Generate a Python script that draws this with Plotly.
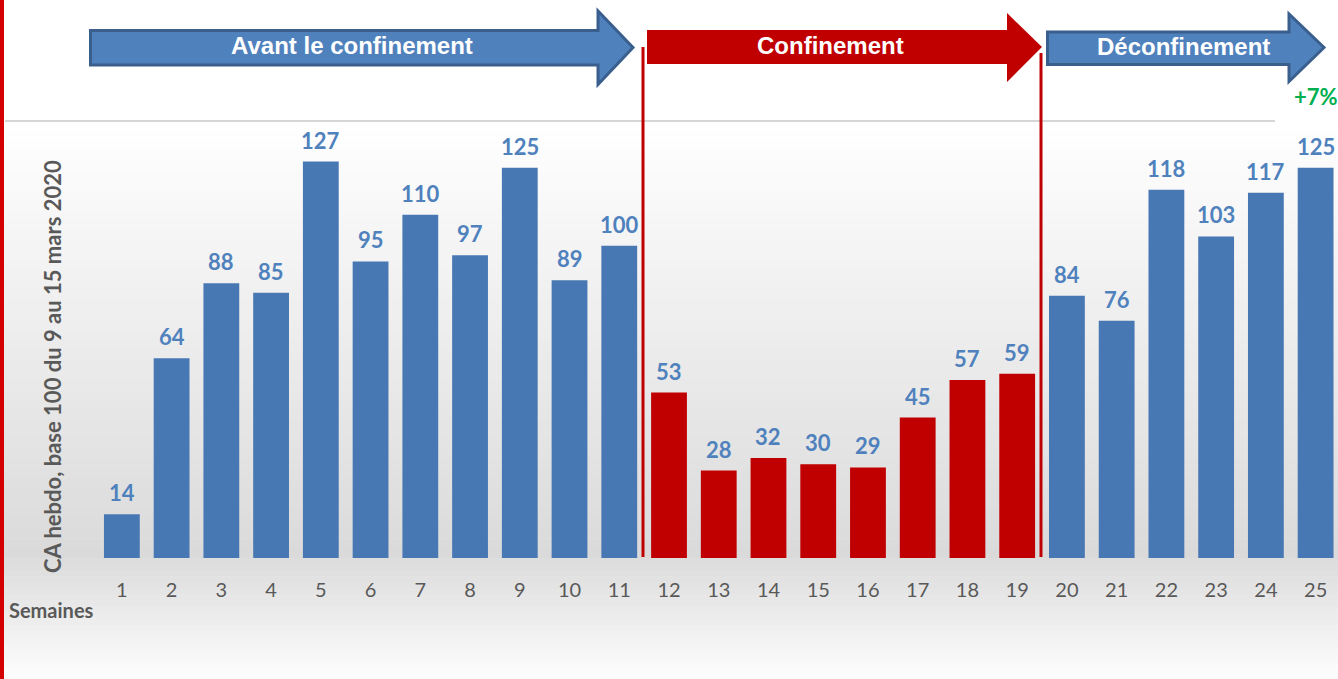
import plotly.graph_objects as go

# ---- data ----
weeks = list(range(1, 26))
values = [14, 64, 88, 85, 127, 95, 110, 97, 125, 89, 100,
          53, 28, 32, 30, 29, 45, 57, 59,
          84, 76, 118, 103, 117, 125]
periods = ["Avant le confinement"] * 11 + ["Confinement"] * 8 + ["Déconfinement"] * 6
period_colors = {"Avant le confinement": "#4878b4", "Confinement": "#c00000", "Déconfinement": "#4878b4"}
y_title = "CA hebdo, base 100 du 9 au 15 mars 2020"
x_title = "Semaines"
final_change = "+7%"

W, H = 1338, 679


def px(x):
    return x / W


def py(y):
    return 1 - y / H


def hexmix(c1, c2, t):
    a = [int(c1[i:i + 2], 16) for i in (1, 3, 5)]
    b = [int(c2[i:i + 2], 16) for i in (1, 3, 5)]
    return "#" + "".join(f"{round(a[k] + (b[k] - a[k]) * t):02x}" for k in range(3))


fig = go.Figure()
fig.add_trace(go.Bar(
    x=weeks, y=values, width=0.72,
    marker=dict(color=[period_colors[p] for p in periods], line=dict(width=0)),
    hoverinfo="x+y",
))

shapes = []
# background gradient
n1 = 44
top, base = 121, 558
for i in range(n1):
    y0 = top + (base - top) * i / n1
    y1 = top + (base - top) * (i + 1) / n1
    c = hexmix("#ffffff", "#dadada", (i + 0.5) / n1)
    shapes.append(dict(type="rect", xref="paper", yref="paper", x0=0, x1=1,
                       y0=py(y1) - 0.001, y1=py(y0), fillcolor=c, line=dict(width=0), layer="below"))
n2 = 20
for i in range(n2):
    y0 = base + (H - base) * i / n2
    y1 = base + (H - base) * (i + 1) / n2
    c = hexmix("#dcdcdc", "#fdfdfd", (i + 0.5) / n2)
    shapes.append(dict(type="rect", xref="paper", yref="paper", x0=0, x1=1,
                       y0=py(y1) - 0.001, y1=py(y0), fillcolor=c, line=dict(width=0), layer="below"))

# top grey line
shapes.append(dict(type="line", xref="paper", yref="paper", x0=px(5), x1=px(1275),
                   y0=py(121), y1=py(121), line=dict(color="#d6d6d6", width=2)))
# left red border
shapes.append(dict(type="rect", xref="paper", yref="paper", x0=0, x1=px(4), y0=0, y1=1,
                   fillcolor="#d40000", line=dict(width=0)))


def arrow_path(pts):
    return "M " + " L ".join(f"{px(x):.5f},{py(y):.5f}" for x, y in pts) + " Z"


# arrows
shapes.append(dict(type="path", xref="paper", yref="paper",
                   path=arrow_path([(90.5, 30.5), (598, 30.5), (598, 11), (633, 47.5), (598, 84.5), (598, 65), (90.5, 65)]),
                   fillcolor="#4f81bd", line=dict(color="#3a5f8d", width=3)))
shapes.append(dict(type="path", xref="paper", yref="paper",
                   path=arrow_path([(647, 30), (1007, 30), (1007, 13), (1042, 47), (1007, 82), (1007, 64), (647, 64)]),
                   fillcolor="#c00000", line=dict(width=0)))
shapes.append(dict(type="path", xref="paper", yref="paper",
                   path=arrow_path([(1047.5, 32), (1289, 32), (1289, 14), (1324, 47.5), (1289, 81.5), (1289, 64.5), (1047.5, 64.5)]),
                   fillcolor="#4f81bd", line=dict(color="#3a5f8d", width=3)))

# red separators
shapes.append(dict(type="line", xref="paper", yref="paper", x0=px(643), x1=px(643),
                   y0=py(47), y1=py(557), line=dict(color="#c00000", width=3)))
shapes.append(dict(type="line", xref="paper", yref="paper", x0=px(1041), x1=px(1041),
                   y0=py(53), y1=py(557), line=dict(color="#c00000", width=3)))

annotations = []
for x, v in zip(weeks, values):
    annotations.append(dict(x=x, y=v, xref="x", yref="y", text=f"<b>{v}</b>", showarrow=False,
                            yanchor="bottom", yshift=6,
                            font=dict(family="Lato", size=22, color="#4f81bd")))

arrow_labels = [("Avant le confinement", 352, 46), ("Confinement", 830, 46), ("Déconfinement", 1183, 47)]
for t, x, y in arrow_labels:
    annotations.append(dict(x=px(x), y=py(y), xref="paper", yref="paper", text=f"<b>{t}</b>",
                            showarrow=False, xanchor="center", yanchor="middle",
                            font=dict(family="Liberation Sans", size=24, color="#ffffff")))

annotations.append(dict(x=px(1316), y=py(97), xref="paper", yref="paper", text=f"<b>{final_change}</b>",
                        showarrow=False, xanchor="center", yanchor="middle",
                        font=dict(family="Lato", size=22, color="#00b050")))
annotations.append(dict(x=px(52), y=py(367), xref="paper", yref="paper", text=f"<b>{y_title}</b>",
                        showarrow=False, textangle=-90, xanchor="center", yanchor="middle",
                        font=dict(family="Lato", size=22, color="#595959")))
annotations.append(dict(x=px(51), y=py(610), xref="paper", yref="paper", text=f"<b>{x_title}</b>",
                        showarrow=False, xanchor="center", yanchor="middle",
                        font=dict(family="Lato", size=20, color="#595959")))

fig.update_layout(
    width=W, height=H,
    margin=dict(l=0, r=0, t=0, b=0, pad=0),
    paper_bgcolor="#ffffff",
    plot_bgcolor="rgba(0,0,0,0)",
    showlegend=False,
    bargap=0.28,
    shapes=shapes,
    annotations=annotations,
    xaxis=dict(domain=[px(97), 1], range=[0.5, 25.45], tickmode="array", tickvals=weeks,
               ticktext=[str(w) for w in weeks], showgrid=False, zeroline=False, showline=False,
               ticks="outside", ticklen=14, tickcolor="rgba(0,0,0,0)",
               tickfont=dict(family="Lato", size=20, color="#595959")),
    yaxis=dict(domain=[py(558), py(121)], range=[0, 140], showgrid=False, zeroline=False,
               showticklabels=False, showline=False),
)

fig.write_html("out.html", config={"displayModeBar": False},
               post_script="document.body.style.margin='0px';document.body.style.overflow='hidden';")
